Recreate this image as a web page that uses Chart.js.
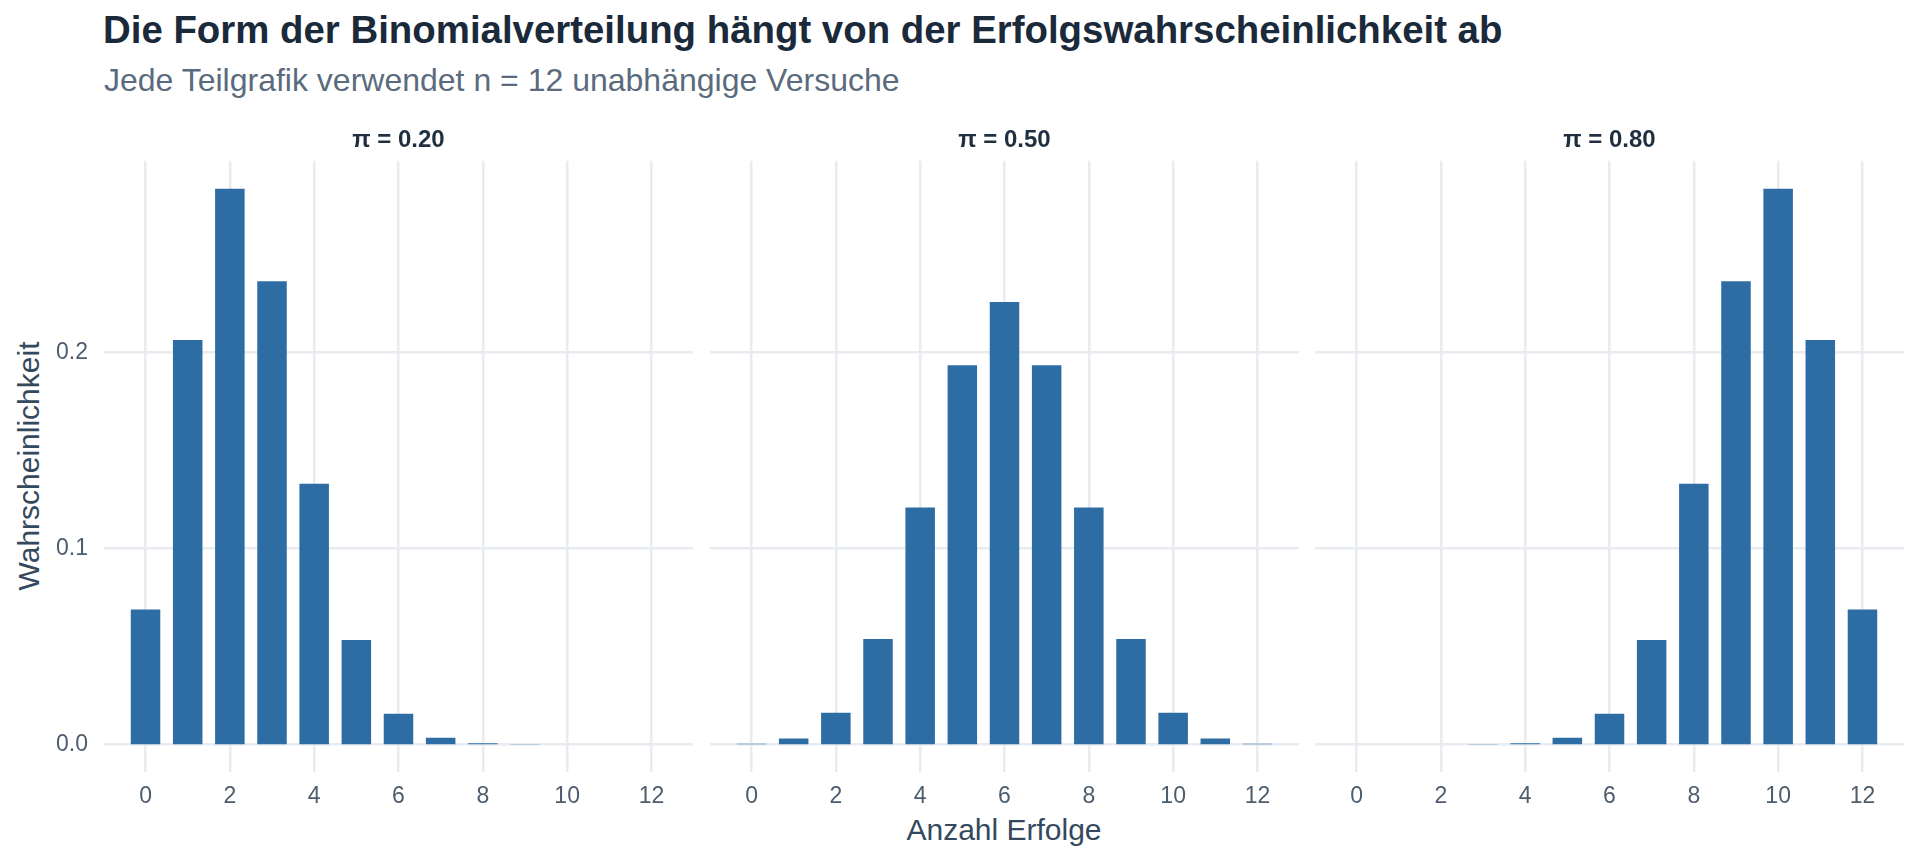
<!DOCTYPE html>
<html><head><meta charset="utf-8">
<script src="https://cdn.jsdelivr.net/npm/chart.js@4.4.1/dist/chart.umd.min.js"></script>
<style>
html,body{margin:0;padding:0;background:#fff;}
body{width:1920px;height:864px;overflow:hidden;position:relative;font-family:"Liberation Sans",Arial,sans-serif;}
.t{position:absolute;white-space:nowrap;line-height:1;}
#title{left:103px;top:11px;font-size:38.4px;font-weight:bold;color:#1b2a3a;}
#subtitle{left:104px;top:64px;font-size:32px;color:#5a6b7d;}
#xtitle{left:104px;width:1800px;text-align:center;top:815px;font-size:30px;color:#34495e;}
#ytitle{left:-271px;top:451px;width:600px;text-align:center;font-size:30px;line-height:30px;color:#34495e;transform:rotate(-90deg);}
.panel{position:absolute;top:120px;}
</style>
</head><body>
<div id="title" class="t">Die Form der Binomialverteilung hängt von der Erfolgswahrscheinlichkeit ab</div>
<div id="subtitle" class="t">Jede Teilgrafik verwendet n = 12 unabhängige Versuche</div>
<div id="ytitle" class="t">Wahrscheinlichkeit</div>
<div id="xtitle" class="t">Anzahl Erfolge</div>
<canvas id="c0" class="panel" width="693" height="692" style="left:0px"></canvas>
<canvas id="c1" class="panel" width="589" height="692" style="left:710px"></canvas>
<canvas id="c2" class="panel" width="589" height="692" style="left:1315px"></canvas>
<script>
// ---- data ----
const successes = [0,1,2,3,4,5,6,7,8,9,10,11,12];
const probPi020 = [0.0687,0.2062,0.2835,0.2362,0.1329,0.0532,0.0155,0.0033,0.0005,0.00006,0.000004,0,0];
const probPi050 = [0.00024,0.0029,0.0161,0.0537,0.1208,0.1934,0.2256,0.1934,0.1208,0.0537,0.0161,0.0029,0.00024];
const probPi080 = [0,0,0.000004,0.00006,0.0005,0.0033,0.0155,0.0532,0.1329,0.2362,0.2835,0.2062,0.0687];
const panelTitles = ["π = 0.20","π = 0.50","π = 0.80"];
const xTickValues = [0,2,4,6,8,10,12];
const yTickValues = [0,0.1,0.2];

const seriesList = [probPi020, probPi050, probPi080];

Chart.defaults.font.family = '"Liberation Sans", Arial, sans-serif';
const gridColor = '#e8ecf1';
const gridWidth = 2.5;
const barColor = '#2e6ca4';

// zero baseline drawn below the bars (bars overlap it, as in the reference)
const zeroLine = {
  id: 'zeroLine',
  beforeDatasetsDraw(chart) {
    const {ctx, chartArea} = chart;
    const y = chart.scales.y.getPixelForValue(0);
    ctx.save();
    ctx.strokeStyle = gridColor;
    ctx.lineWidth = gridWidth;
    ctx.beginPath();
    ctx.moveTo(chartArea.left, y);
    ctx.lineTo(chartArea.right, y);
    ctx.stroke();
    ctx.restore();
  }
};

seriesList.forEach((vals, idx) => {
  const first = idx === 0;
  new Chart(document.getElementById('c' + idx), {
    type: 'bar',
    plugins: [zeroLine],
    data: {
      datasets: [{
        data: successes.map((k, i) => ({x: k, y: vals[i]})),
        backgroundColor: barColor,
        borderWidth: 0,
        inflateAmount: 0,
        barPercentage: 0.7,
        categoryPercentage: 1.0
      }]
    },
    options: {
      responsive: false,
      animation: false,
      events: [],
      layout: {padding: 0},
      plugins: {
        legend: {display: false},
        tooltip: {enabled: false},
        title: {
          display: true,
          fullSize: false,
          text: panelTitles[idx],
          color: '#1f2f3f',
          font: {size: 24, weight: 'bold', lineHeight: 1.2},
          padding: {top: 6, bottom: 6}
        }
      },
      scales: {
        x: {
          type: 'linear',
          offset: false,
          min: -0.985, max: 12.985,
          afterBuildTicks: s => { s.ticks = xTickValues.map(v => ({value: v})); },
          afterFit: s => { s.height = 40; },
          grid: {color: gridColor, lineWidth: gridWidth, drawTicks: false, offset: false},
          border: {display: false},
          ticks: {color: '#4d5d6d', font: {size: 23}, padding: 11, maxRotation: 0,
                  callback: v => String(v)}
        },
        y: {
          type: 'linear',
          min: -0.01417, max: 0.2977,
          afterBuildTicks: s => { s.ticks = yTickValues.map(v => ({value: v})); },
          afterFit: s => { s.width = first ? 104 : 0; },
          grid: {color: gridColor, drawTicks: false,
                 lineWidth: c => (c.tick && c.tick.value === 0) ? 0 : gridWidth},
          border: {display: false},
          ticks: {display: first, color: '#4d5d6d', font: {size: 23}, padding: 16,
                  callback: v => v.toFixed(1)}
        }
      }
    }
  });
});
</script>
</body></html>
